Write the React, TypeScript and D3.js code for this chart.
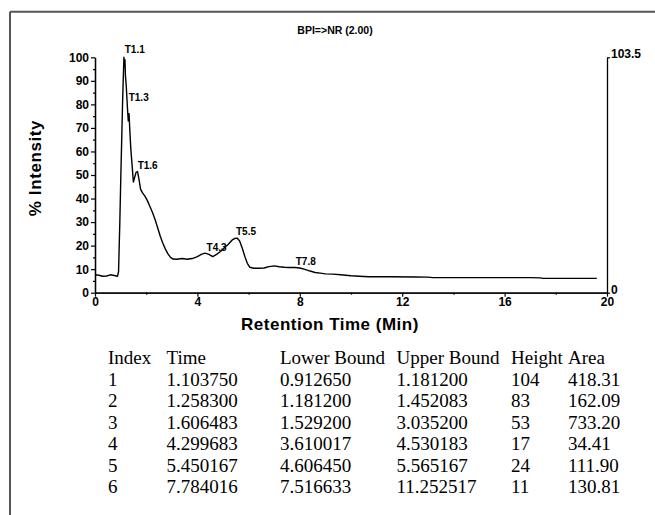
import React, { useEffect, useRef } from "react";
import * as d3 from "d3";

// Chromatogram trace (retention time in min, % intensity)
const traceTime = [0, 0.15, 0.3, 0.45, 0.6, 0.75, 0.88, 0.92, 0.97, 1.01, 1.05, 1.08, 1.11, 1.13, 1.15, 1.17, 1.19, 1.22, 1.25, 1.27, 1.3, 1.33, 1.36, 1.4, 1.45, 1.5, 1.55, 1.6, 1.66, 1.72, 1.78, 1.85, 1.95, 2.05, 2.15, 2.25, 2.35, 2.45, 2.55, 2.65, 2.75, 2.85, 2.95, 3.05, 3.2, 3.4, 3.6, 3.8, 4.0, 4.15, 4.3, 4.45, 4.6, 4.75, 4.9, 5.05, 5.2, 5.35, 5.45, 5.55, 5.65, 5.75, 5.85, 5.95, 6.05, 6.2, 6.4, 6.6, 6.8, 7.0, 7.2, 7.4, 7.6, 7.8, 8.0, 8.2, 8.4, 8.6, 8.8, 9.0, 9.3, 9.6, 10.0, 10.5, 10.7, 11.5, 12.5, 13.0, 13.2, 14, 15, 16, 17, 17.4, 17.5, 18, 19, 19.6];
const traceIntensity = [7.6, 7.4, 7.0, 7.1, 7.6, 7.3, 7.0, 9, 30, 50, 68, 82, 93, 100, 96, 99, 92, 88, 82, 78, 73, 76, 69, 61, 54, 47, 49, 51, 51.5, 48, 44, 42.5, 41, 39, 36.5, 34, 31, 27.5, 24, 21, 18.5, 16.5, 15, 14.3, 14.2, 14.5, 14.2, 14.5, 15.3, 16.3, 16.8, 16.3, 15.3, 16.3, 17.5, 19, 20.5, 22.3, 23, 23.2, 22, 19, 15.5, 12.5, 10.8, 10.4, 10.4, 10.5, 11.1, 11.4, 11.0, 10.8, 10.7, 10.7, 10.5, 9.9, 9.2, 8.6, 8.3, 8.0, 7.9, 7.6, 7.2, 6.9, 6.8, 6.8, 6.7, 6.6, 6.4, 6.4, 6.4, 6.4, 6.4, 6.3, 6.1, 6.1, 6.1, 6.1];

// Peak table
const peakIndex = ["1", "2", "3", "4", "5", "6"];
const peakTime = ["1.103750", "1.258300", "1.606483", "4.299683", "5.450167", "7.784016"];
const peakLower = ["0.912650", "1.181200", "1.529200", "3.610017", "4.606450", "7.516633"];
const peakUpper = ["1.181200", "1.452083", "3.035200", "4.530183", "5.565167", "11.252517"];
const peakHeight = [104, 83, 53, 17, 24, 11];
const peakArea = ["418.31", "162.09", "733.20", "34.41", "111.90", "130.81"];
const peakLabels = ["T1.1", "T1.3", "T1.6", "T4.3", "T5.5", "T7.8"];
const tableHeaders = ["Index", "Time", "Lower Bound", "Upper Bound", "Height", "Area"];

const xMajor = [0, 4, 8, 12, 16, 20];
const xMinor = [2, 6, 10, 14, 18];
const yMajor = [0, 10, 20, 30, 40, 50, 60, 70, 80, 90, 100];
const yMinor = [5, 15, 25, 35, 45, 55, 65, 75, 85, 95];
const maxAbs = 103.5;

const SANS = "'Liberation Sans', Arial, sans-serif";
const SERIF = "'Liberation Serif', 'Times New Roman', serif";

export default function App() {
  const xAxisRef = useRef<SVGGElement>(null);
  const xMinorRef = useRef<SVGGElement>(null);
  const yAxisRef = useRef<SVGGElement>(null);
  const yMinorRef = useRef<SVGGElement>(null);
  const rAxisRef = useRef<SVGGElement>(null);

  const x = d3.scaleLinear().domain([0, 20]).range([95, 607]);
  const y = d3.scaleLinear().domain([0, 100]).range([292.7, 57.3]);
  const yr = d3.scaleLinear().domain([0, maxAbs]).range([292.7, 57.3]);

  const line = d3
    .line<number>()
    .x((_, i) => x(traceTime[i]))
    .y((d) => y(d));

  useEffect(() => {
    const style = (g: d3.Selection<SVGGElement, unknown, null, undefined>) => {
      g.select(".domain").attr("stroke", "#000").attr("stroke-width", 1.3);
      g.selectAll(".tick line").attr("stroke", "#000").attr("stroke-width", 1.2);
      g.selectAll(".tick text")
        .attr("fill", "#000")
        .style("font-family", SANS)
        .style("font-weight", "bold")
        .style("font-size", "12px");
    };
    const xa = d3.select(xAxisRef.current!);
    xa.call(d3.axisBottom(x).tickValues(xMajor).tickSize(4).tickSizeOuter(0).tickPadding(1).tickFormat(d3.format("d")) as any);
    style(xa);
    const xm = d3.select(xMinorRef.current!);
    xm.call(d3.axisBottom(x).tickValues(xMinor).tickSize(2).tickSizeOuter(0).tickFormat(() => "") as any);
    style(xm);
    const ya = d3.select(yAxisRef.current!);
    ya.call(d3.axisLeft(y).tickValues(yMajor).tickSize(4).tickSizeOuter(0).tickPadding(2).tickFormat(d3.format("d")) as any);
    style(ya);
    const ym = d3.select(yMinorRef.current!);
    ym.call(d3.axisLeft(y).tickValues(yMinor).tickSize(2).tickSizeOuter(0).tickFormat(() => "") as any);
    style(ym);
    const ra = d3.select(rAxisRef.current!);
    ra.call(d3.axisRight(yr).tickValues([0, maxAbs]).tickSize(3).tickSizeOuter(0).tickPadding(1).tickFormat((d: any) => (d === 0 ? "0" : "103.5")) as any);
    style(ra);
    ra.selectAll(".tick text").attr("dy", (d: any) => (d === 0 ? "0.1em" : "0em"));
  }, []);

  const rowY = (i: number) => 364 + i * 21.5;
  const colX = [108, 166.5, 280, 396.5, 511, 568];
  const rows = peakIndex.map((_, i) => [peakIndex[i], peakTime[i], peakLower[i], peakUpper[i], String(peakHeight[i]), peakArea[i]]);

  return (
    <svg width={655} height={515} style={{ position: "absolute", left: 0, top: 0, background: "#fff" }}>
      <rect x={0} y={0} width={655} height={515} fill="#fff" />
      <line x1={10} y1={11.7} x2={655} y2={11.7} stroke="#555" strokeWidth={2} />
      <line x1={10} y1={11.7} x2={10} y2={515} stroke="#555" strokeWidth={2} />

      <text x={335} y={34} textAnchor="middle" fontFamily={SANS} fontWeight="bold" fontSize={10.5}>
        BPI=&gt;NR (2.00)
      </text>

      <path d={line(traceIntensity) ?? ""} fill="none" stroke="#000" strokeWidth={1.4} strokeLinejoin="round" />

      <g ref={yMinorRef} transform={`translate(${x(0)},0)`} />
      <g ref={yAxisRef} transform={`translate(${x(0)},0)`} />
      <g ref={xMinorRef} transform={`translate(0,${y(0)})`} />
      <g ref={xAxisRef} transform={`translate(0,${y(0)})`} />
      <g ref={rAxisRef} transform={`translate(${x(20)},0)`} />

      {peakLabels.map((lab, i) => (
        <text
          key={lab}
          x={x(parseFloat(peakTime[i])) + 1.5}
          y={y((peakHeight[i] / maxAbs) * 100) - 3}
          fontFamily={SANS}
          fontWeight="bold"
          fontSize={10}
        >
          {lab}
        </text>
      ))}

      <text
        transform={`translate(41,168) rotate(-90)`}
        textAnchor="middle"
        fontFamily={SANS}
        fontWeight="bold"
        fontSize={17}
        letterSpacing={0.6}
      >
        % Intensity
      </text>
      <text x={330} y={330} textAnchor="middle" fontFamily={SANS} fontWeight="bold" fontSize={17} letterSpacing={0.5}>
        Retention Time (Min)
      </text>

      {tableHeaders.map((h, j) => (
        <text key={h} x={colX[j]} y={rowY(0)} fontFamily={SERIF} fontSize={19}>
          {h}
        </text>
      ))}
      {rows.map((r, i) =>
        r.map((v, j) => (
          <text key={`${i}-${j}`} x={colX[j]} y={rowY(i + 1)} fontFamily={SERIF} fontSize={19}>
            {v}
          </text>
        ))
      )}
    </svg>
  );
}
